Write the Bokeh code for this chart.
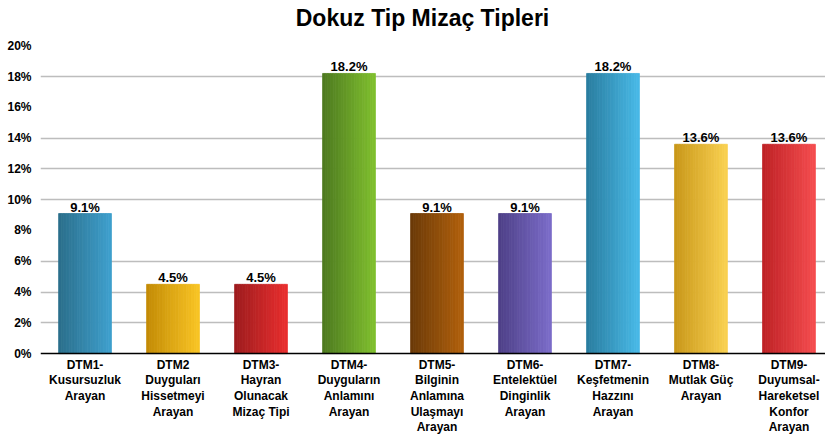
from bokeh.plotting import figure
from bokeh.models import FixedTicker, PrintfTickFormatter, ColumnDataSource, LabelSet, Span
from bokeh.core.properties import value
from bokeh.embed import file_html
from bokeh.resources import INLINE

title_text = "Dokuz Tip Mizaç Tipleri"
categories = [
    "DTM1-\nKusursuzluk\nArayan",
    "DTM2\nDuyguları\nHissetmeyi\nArayan",
    "DTM3-\nHayran\nOlunacak\nMizaç Tipi",
    "DTM4-\nDuyguların\nAnlamını\nArayan",
    "DTM5-\nBilginin\nAnlamına\nUlaşmayı\nArayan",
    "DTM6-\nEntelektüel\nDinginlik\nArayan",
    "DTM7-\nKeşfetmenin\nHazzını\nArayan",
    "DTM8-\nMutlak Güç\nArayan",
    "DTM9-\nDuyumsal-\nHareketsel\nKonfor\nArayan",
]
values = [9.1, 4.5, 4.5, 18.2, 9.1, 9.1, 18.2, 13.6, 13.6]
value_labels = ["9.1%", "4.5%", "4.5%", "18.2%", "9.1%", "9.1%", "18.2%", "13.6%", "13.6%"]
left_colors = ["#2b6f8c", "#c48c06", "#9e1c1e", "#4e7a20", "#6b3a08",
               "#4e4088", "#2a7ea0", "#c9981a", "#bf2226"]
right_colors = ["#3e9fcc", "#f8c424", "#e82e2e", "#7fbf2e", "#b0600c",
                "#7b6cc8", "#48b8e6", "#f9d050", "#f44c4e"]
y_ticks = [0, 2, 4, 6, 8, 10, 12, 14, 16, 18, 20]
grid_ticks = [2, 4, 6, 10, 12, 14, 18]

# the frame fills the canvas height; title and category labels sit inside it
p = figure(width=825, height=439, output_backend="svg", toolbar_location=None,
           x_range=(0.494, 9.415), y_range=(-5.58, 22.94),
           min_border_left=40, min_border_right=0, min_border_bottom=0,
           min_border_top=0)
p.outline_line_color = None
p.background_fill_color = "white"
p.border_fill_color = "white"

p.text(x=[4.835], y=[21.82], text=[title_text], text_align="center",
       text_baseline="middle", text_font=value("Liberation Sans"),
       text_font_size="23px", text_font_style="bold", text_color="black")


def hex_to_rgb(h):
    h = h.lstrip("#")
    return tuple(int(h[i:i + 2], 16) for i in (0, 2, 4))


def mix(c1, c2, t):
    a = hex_to_rgb(c1)
    b = hex_to_rgb(c2)
    r = [round(a[k] + (b[k] - a[k]) * t) for k in range(3)]
    return "#%02x%02x%02x" % tuple(r)


bar_w = 0.6
n_strips = 20
lefts, rights, tops, bottoms, cols = [], [], [], [], []
for i, v in enumerate(values):
    xc = i + 1
    x0 = xc - bar_w / 2
    sw = bar_w / n_strips
    for j in range(n_strips):
        lefts.append(x0 + j * sw)
        rights.append(x0 + (j + 1) * sw)
        tops.append(v)
        bottoms.append(0)
        cols.append(mix(left_colors[i], right_colors[i], j / (n_strips - 1)))

p.quad(left=lefts, right=rights, top=tops, bottom=bottoms, fill_color=cols,
       line_color=cols, line_width=0.8)

src = ColumnDataSource(dict(x=list(range(1, 10)), y=values, t=value_labels))
labels = LabelSet(x="x", y="y", text="t", source=src, text_align="center",
                  text_baseline="bottom", y_offset=-1,
                  text_font=value("Liberation Sans"),
                  text_font_size=value("13px"), text_font_style="bold",
                  text_color="black")
p.add_layout(labels)

# x axis: baseline and category labels
p.add_layout(Span(location=0, dimension="width", line_color="black", line_width=1.5))
cat_src = ColumnDataSource(dict(x=list(range(1, 10)), y=[-0.26] * 9, t=categories))
p.text(x="x", y="y", text="t", source=cat_src, text_align="center",
       text_baseline="top", text_font=value("Liberation Sans"),
       text_font_size="12px", text_font_style="bold", text_color="black",
       text_line_height=1.12)
p.xaxis.visible = False
p.xgrid.grid_line_color = None

# y axis
p.yaxis.ticker = FixedTicker(ticks=y_ticks)
p.yaxis.formatter = PrintfTickFormatter(format="%d%%")
p.yaxis.axis_line_color = None
p.yaxis.major_tick_line_color = None
p.yaxis.minor_tick_line_color = None
p.yaxis.major_label_standoff = 3
p.yaxis.major_label_text_font = "Liberation Sans"
p.yaxis.major_label_text_font_size = "12px"
p.yaxis.major_label_text_font_style = "bold"
p.yaxis.major_label_text_color = "black"
p.ygrid.ticker = FixedTicker(ticks=grid_ticks)
p.ygrid.grid_line_color = "#bdbdbd"
p.ygrid.grid_line_width = 1.5
p.ygrid.level = "underlay"

open("out.html", "w").write(file_html(p, INLINE))
